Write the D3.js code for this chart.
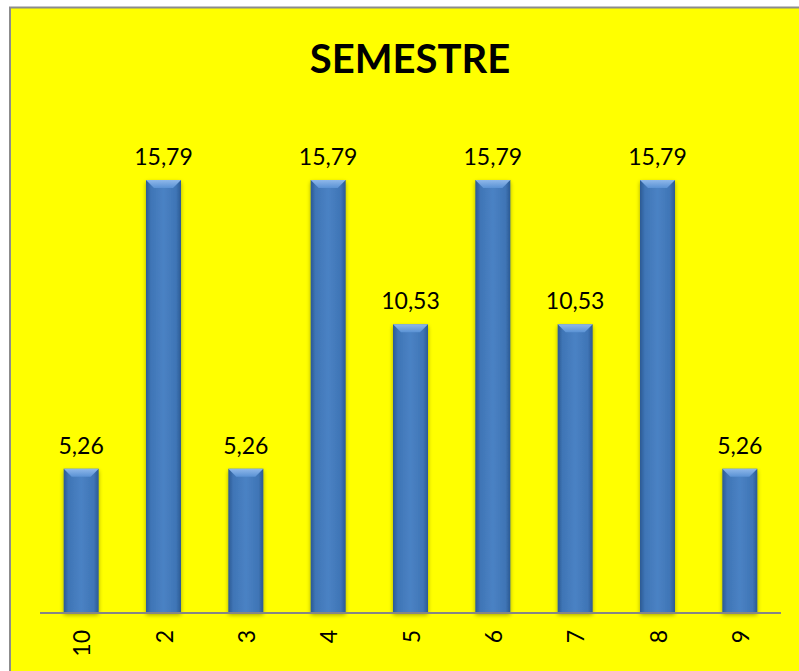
<!DOCTYPE html>
<html><head><meta charset="utf-8">
<script src="https://cdn.jsdelivr.net/npm/d3@7"></script>
<style>html,body{margin:0;padding:0;background:#fff;overflow:hidden}</style>
</head><body>
<svg id="c" width="799" height="671"></svg>
<script>
const categories = ["10","2","3","4","5","6","7","8","9"];
const values = [5.26,15.79,5.26,15.79,10.53,15.79,10.53,15.79,5.26];
const valueLabels = ["5,26","15,79","5,26","15,79","10,53","15,79","10,53","15,79","5,26"];
const title = "SEMESTRE";

const svg = d3.select("#c");
const defs = svg.append("defs");
const g1 = defs.append("linearGradient").attr("id","barG").attr("x1","0").attr("x2","1").attr("y1","0").attr("y2","0");
[[0,"#2b5a93"],[0.14,"#3f75b6"],[0.5,"#4a82c4"],[0.86,"#3f75b6"],[1,"#2b5a93"]].forEach(([o,c])=>g1.append("stop").attr("offset",o).attr("stop-color",c));
const g2 = defs.append("linearGradient").attr("id","bevG").attr("x1","0").attr("x2","0").attr("y1","0").attr("y2","1");
[[0,"#8fb8ea"],[1,"#5a92d4"]].forEach(([o,c])=>g2.append("stop").attr("offset",o).attr("stop-color",c));
const f = defs.append("filter").attr("id","sh").attr("x","-30%").attr("y","-10%").attr("width","160%").attr("height","125%");
f.append("feGaussianBlur").attr("in","SourceAlpha").attr("stdDeviation","2");
f.append("feOffset").attr("dx","0").attr("dy","2").attr("result","b");
f.append("feComponentTransfer").append("feFuncA").attr("type","linear").attr("slope","0.35");
const m = f.append("feMerge"); m.append("feMergeNode"); m.append("feMergeNode").attr("in","SourceGraphic");

// chart area
svg.append("rect").attr("x",10).attr("y",7.5).attr("width",800).attr("height",700)
  .attr("fill","#ffff00").attr("stroke","#8c8c8c").attr("stroke-width",2);

svg.append("text").attr("x",410).attr("y",73).attr("text-anchor","middle")
  .attr("font-family","Lato, 'Open Sans', sans-serif").attr("font-weight","bold").attr("font-size",40)
  .attr("fill","#000").text(title);

const x = d3.scaleBand().domain(categories).range([40,781]).paddingInner(0.575).paddingOuter(0.2875);
const y = d3.scaleLinear().domain([0,18]).range([613,119.4]);

const bars = svg.append("g").selectAll("g").data(values).join("g");
bars.append("rect")
  .attr("x",(d,i)=>x(categories[i])).attr("y",d=>y(d))
  .attr("width",x.bandwidth()).attr("height",d=>y(0)-y(d))
  .attr("fill","url(#barG)").attr("filter","url(#sh)");
bars.append("path")
  .attr("d",(d,i)=>{const x0=x(categories[i]),w=x.bandwidth(),t=y(d),b=8;
    return `M${x0},${t}L${x0+w},${t}L${x0+w-b},${t+b}L${x0+b},${t+b}Z`;})
  .attr("fill","url(#bevG)");

svg.append("g").selectAll("text").data(values).join("text")
  .attr("x",(d,i)=>x(categories[i])+x.bandwidth()/2).attr("y",d=>y(d)-15)
  .attr("text-anchor","middle").attr("font-family","Lato, 'Open Sans', sans-serif").attr("font-size",23)
  .attr("fill","#000").text((d,i)=>valueLabels[i]);

// axis
const axis = d3.axisBottom(x).tickSize(0).tickPadding(0);
const ax = svg.append("g").attr("transform","translate(0,613)").call(axis);
ax.select(".domain").attr("stroke","#868686").attr("stroke-width",2).attr("d","M40,0H781");
ax.selectAll(".tick text")
  .attr("font-family","Lato, 'Open Sans', sans-serif").attr("font-size",23).attr("fill","#000")
  .attr("text-anchor","end").attr("dy",null).attr("y",null)
  .attr("transform","translate(9,17) rotate(-90)");
</script>
</body></html>
